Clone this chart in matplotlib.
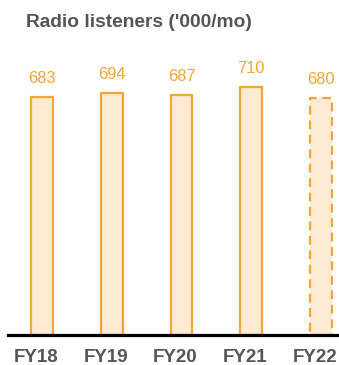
import matplotlib
matplotlib.use("Agg")
import matplotlib.pyplot as plt
import matplotlib.transforms as mtransforms

plt.rcParams["font.family"] = ["Liberation Sans", "DejaVu Sans"]

categories = ["FY18", "FY19", "FY20", "FY21", "FY22"]
values = [683, 694, 687, 710, 680]
dashed = [False, False, False, False, True]

W, H = 339, 365
fig = plt.figure(figsize=(W/100, H/100), dpi=100)
ax = fig.add_axes([8/W, 30/H, (W-8)/W, (335-50)/H])

edge = "#F2A53A"
fill = "#FCEBD2"
x = list(range(len(categories)))
for xi, v, d in zip(x, values, dashed):
    ax.bar(xi, v, width=0.315, color=fill, edgecolor=edge, linewidth=1.6,
           linestyle=(0, (4, 2.5)) if d else "solid", zorder=2)
    ax.annotate(str(v), (xi, v), xytext=(0, 10), textcoords="offset points",
                ha="center", va="baseline", color=edge, fontsize=11.8)

ax.set_xlim(-0.49, 4.26)
ax.set_ylim(0, (335-50)/0.349)
ax.set_xticks(x)
ax.set_xticklabels(categories, fontsize=13.5, fontweight="bold", color="#555555")
ax.tick_params(axis="x", length=0, pad=10)
shift = mtransforms.ScaledTranslation(-6/100, 0, fig.dpi_scale_trans)
for lbl in ax.get_xticklabels():
    lbl.set_transform(lbl.get_transform() + shift)
ax.set_yticks([])
for s in ["top", "right", "left"]:
    ax.spines[s].set_visible(False)
ax.spines["bottom"].set_linewidth(2.3)
ax.spines["bottom"].set_color("black")
ax.spines["bottom"].set_zorder(3)

fig.text(26/W, 1 - 27/H, "Radio listeners ('000/mo)", fontsize=13.8, fontweight="bold",
         color="#555555", ha="left", va="baseline")

fig.savefig("out.png", dpi=100)
